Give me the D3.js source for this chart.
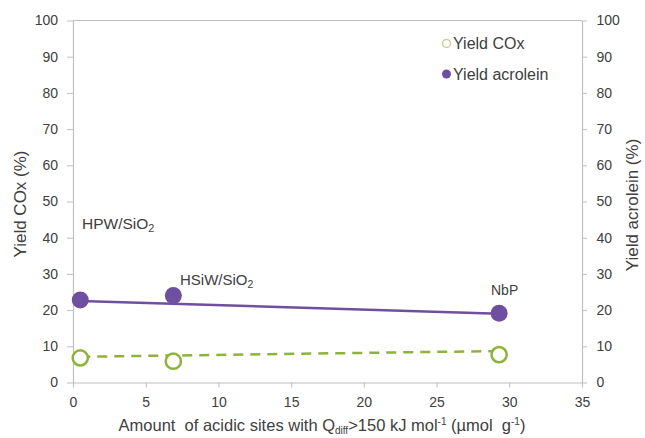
<!DOCTYPE html>
<html>
<head>
<meta charset="utf-8">
<script src="https://cdn.jsdelivr.net/npm/d3@7"></script>
<style>
  html, body { margin: 0; padding: 0; background: #fff; }
  text { font-family: "Liberation Sans", Arial, sans-serif; fill: #404040; }
</style>
</head>
<body>
<svg id="chart" width="645" height="438"></svg>
<script>
// ---- data ----
const catalysts = ["HPW/SiO2", "HSiW/SiO2", "NbP"];
const acidSites = [0.5, 6.9, 29.3];
const yieldAcrolein = [22.8, 24.0, 19.1];
const yieldCOx = [6.8, 5.9, 7.7];
const trendX = [0.5, 29.3];
const trendAcrolein = [22.5, 19.0];
const trendCOx = [7.1, 8.7];
const xTicks = [0, 5, 10, 15, 20, 25, 30, 35];
const yTicks = [0, 10, 20, 30, 40, 50, 60, 70, 80, 90, 100];

const svg = d3.select("#chart");
const L = 73, R = 582, T = 20.5, B = 382.5;
const x = d3.scaleLinear().domain([0, 35]).range([L, R]);
const yL = d3.scaleLinear().domain([0, 100]).range([B, T]);
const yR = d3.scaleLinear().domain([0, 100]).range([B, T]);

const axisColor = "#bfbfbf";
const purple = "#6f4f9f";
const green = "#8db33a";

// frame top
svg.append("line").attr("x1", L).attr("x2", R).attr("y1", T).attr("y2", T)
  .attr("stroke", axisColor).attr("stroke-width", 1.2);

function styleAxis(g) {
  g.selectAll("path").attr("stroke", axisColor).attr("stroke-width", 1.2);
  g.selectAll("line").attr("stroke", axisColor);
  g.selectAll("text").attr("font-size", 14).attr("fill", "#404040")
    .attr("font-family", "'Liberation Sans', Arial, sans-serif");
}

const gx = svg.append("g").attr("transform", `translate(0,${B})`)
  .call(d3.axisBottom(x).tickValues(xTicks).tickSize(5).tickSizeOuter(0).tickPadding(10));
styleAxis(gx);

const gyl = svg.append("g").attr("transform", `translate(${L},0)`)
  .call(d3.axisLeft(yL).tickValues(yTicks).tickSize(6).tickSizeOuter(0).tickPadding(9));
styleAxis(gyl);

const gyr = svg.append("g").attr("transform", `translate(${R},0)`)
  .call(d3.axisRight(yR).tickValues(yTicks).tickSize(5).tickSizeOuter(0).tickPadding(9.5));
styleAxis(gyr);

// trend lines
const line = d3.line().x(d => x(d[0])).y(d => d[2](d[1]));
svg.append("path")
  .attr("d", line(trendX.map((v, i) => [v, trendAcrolein[i], yR])))
  .attr("stroke", purple).attr("stroke-width", 2.5).attr("fill", "none");
svg.append("path")
  .attr("d", line(trendX.map((v, i) => [v, trendCOx[i], yL])))
  .attr("stroke", green).attr("stroke-width", 2.5).attr("fill", "none")
  .attr("stroke-dasharray", "10,7");

// markers
svg.selectAll(".acro").data(acidSites).enter().append("circle")
  .attr("cx", d => x(d)).attr("cy", (d, i) => yR(yieldAcrolein[i]))
  .attr("r", 8.5).attr("fill", purple);
svg.selectAll(".cox").data(acidSites).enter().append("circle")
  .attr("cx", d => x(d)).attr("cy", (d, i) => yL(yieldCOx[i]))
  .attr("r", 7.6).attr("fill", "#fff").attr("stroke", green).attr("stroke-width", 2.5);

// annotations
function labelWithSub(xp, yp, main, sub, size) {
  const t = svg.append("text").attr("x", xp).attr("y", yp).attr("font-size", size).attr("fill", "#333");
  t.append("tspan").text(main);
  if (sub) t.append("tspan").attr("font-size", size * 0.7).attr("dy", 3).text(sub);
}
labelWithSub(82, 229, "HPW/SiO", "2", 15.5);
labelWithSub(180, 285, "HSiW/SiO", "2", 15);
labelWithSub(491, 295, "NbP", null, 14);

// legend
const lg = svg.append("g");
lg.append("circle").attr("cx", 446.5).attr("cy", 43.5).attr("r", 4)
  .attr("fill", "#fff").attr("stroke", "#c8cf9a").attr("stroke-width", 1.5);
lg.append("text").attr("x", 453).attr("y", 49).attr("font-size", 16).attr("fill", "#333").text("Yield COx");
lg.append("circle").attr("cx", 446.5).attr("cy", 74).attr("r", 4.5).attr("fill", purple);
lg.append("text").attr("x", 453).attr("y", 80).attr("font-size", 16).attr("fill", "#333").text("Yield acrolein");

// axis titles
svg.append("text").attr("transform", "translate(26,204) rotate(-90)")
  .attr("text-anchor", "middle").attr("font-size", 17).attr("fill", "#222").text("Yield COx (%)");
svg.append("text").attr("transform", "translate(638,205) rotate(-90)")
  .attr("text-anchor", "middle").attr("font-size", 17).attr("fill", "#222").text("Yield acrolein (%)");

const xt = svg.append("text").attr("x", 322).attr("y", 431).attr("text-anchor", "middle")
  .attr("font-size", 16.5).attr("fill", "#222").style("white-space", "pre");
xt.append("tspan").text("Amount  of acidic sites with Q");
xt.append("tspan").attr("font-size", 10).attr("dy", 3).text("diff");
xt.append("tspan").attr("dy", -3).text(">150 kJ mol");
xt.append("tspan").attr("font-size", 10).attr("dy", -6).text("-1");
xt.append("tspan").attr("dy", 6).text(" (µmol  g");
xt.append("tspan").attr("font-size", 10).attr("dy", -6).text("-1");
xt.append("tspan").attr("dy", 6).text(")");
</script>
</body>
</html>
